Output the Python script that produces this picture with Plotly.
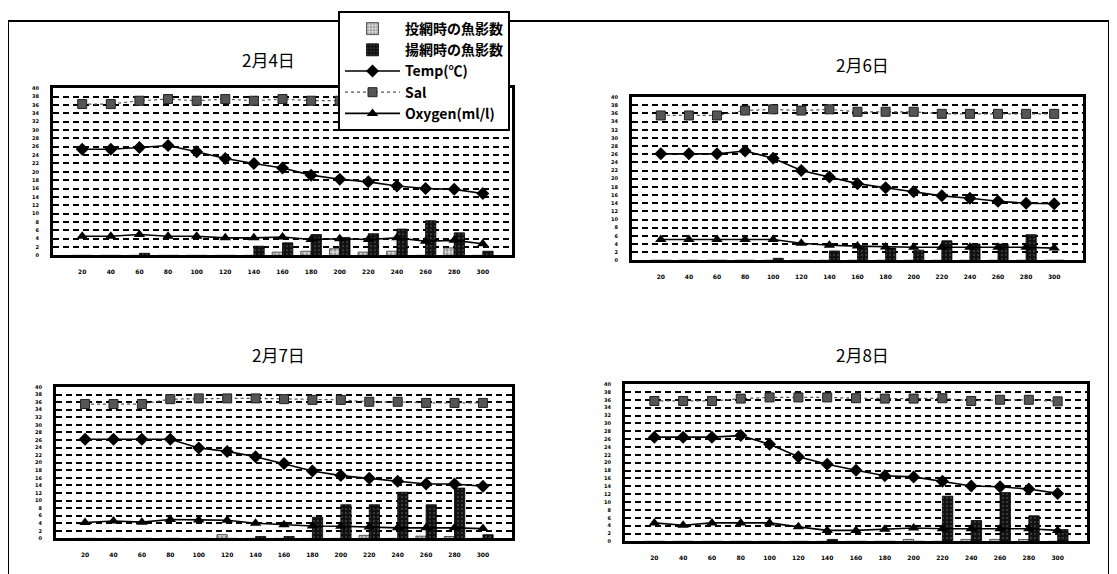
import plotly.graph_objects as go

# ---------------- data ----------------
depth_labels = ["20", "40", "60", "80", "100", "120", "140", "160", "180",
                "200", "220", "240", "260", "280", "300"]
y_tick_vals = list(range(0, 41, 2))

titles = ["2月4日", "2月6日", "2月7日", "2月8日"]
series_names = ["投網時の魚影数", "揚網時の魚影数", "Temp(℃)", "Sal", "Oxygen(ml/l)"]

# 2月4日
cast_0204 = [0, 0, 0, 0, 0, 0, 0, 0.8, 1.0, 1.6, 0.8, 1.0, 0, 1.8, 0]
haul_0204 = [0, 0, 0.5, 0, 0, 0, 2.2, 3.0, 5.0, 4.3, 5.2, 6.3, 8.3, 5.4, 1.0]
temp_0204 = [25.4, 25.4, 25.8, 26.3, 24.8, 23.2, 22.0, 20.9, 19.2, 18.2, 17.6, 16.6, 16.0, 15.8, 14.8]
sal_0204 = [36.2, 36.2, 37.0, 37.4, 37.0, 37.4, 37.0, 37.4, 37.0, 37.0, 37.0, 37.0, 36.8, 36.8, 36.8]
oxy_0204 = [4.6, 4.6, 5.0, 4.6, 4.6, 4.2, 4.2, 4.4, 3.8, 4.0, 3.8, 4.2, 3.4, 3.6, 2.8]

# 2月6日
cast_0206 = [0, 0, 0, 0, 0, 0, 0, 0, 0, 0, 0, 0, 0, 0, 0]
haul_0206 = [0, 0, 0, 0, 0.5, 0, 2.3, 3.5, 3.0, 2.5, 4.8, 4.0, 4.0, 6.3, 0]
temp_0206 = [26.1, 26.1, 26.1, 26.8, 25.0, 22.0, 20.4, 18.8, 17.8, 16.8, 15.8, 15.2, 14.5, 14.0, 13.9]
sal_0206 = [35.5, 35.5, 35.5, 36.7, 37.0, 36.7, 37.0, 36.4, 36.4, 36.4, 35.9, 35.9, 35.9, 35.9, 35.9]
oxy_0206 = [5.1, 5.1, 5.1, 5.1, 5.1, 4.2, 3.7, 3.5, 3.3, 3.2, 3.2, 3.2, 3.2, 3.2, 3.0]

# 2月7日
cast_0207 = [0, 0, 0, 0, 0, 1.0, 0, 0, 0, 0, 0.8, 0, 0.6, 0.5, 0]
haul_0207 = [0, 0, 0, 0, 0, 0, 0.5, 0.5, 5.6, 8.9, 8.9, 12.2, 8.9, 13.3, 1.0]
temp_0207 = [26.2, 26.2, 26.2, 26.2, 23.9, 23.0, 21.6, 19.8, 17.8, 16.6, 15.9, 15.1, 14.4, 14.4, 13.8]
sal_0207 = [35.5, 35.5, 35.5, 36.8, 37.0, 37.0, 37.0, 36.8, 36.6, 36.6, 36.1, 36.1, 35.8, 35.8, 35.8]
oxy_0207 = [4.2, 4.6, 4.3, 5.0, 4.9, 4.8, 4.0, 3.6, 3.3, 3.2, 3.0, 2.8, 2.8, 2.8, 2.6]

# 2月8日
cast_0208 = [0, 0, 0, 0, 0, 0, 0, 0, 0, 0.5, 0, 0.5, 0.5, 0.5, 0]
haul_0208 = [0, 0, 0, 0, 0, 0, 0.5, 0, 0, 0, 11.5, 5.3, 12.4, 6.5, 3.0]
temp_0208 = [26.5, 26.5, 26.5, 26.9, 24.7, 21.5, 19.6, 18.1, 16.7, 16.4, 15.3, 14.1, 13.9, 13.3, 12.2]
sal_0208 = [35.7, 35.7, 35.7, 36.3, 36.6, 36.6, 36.6, 36.4, 36.3, 36.3, 36.4, 35.7, 36.0, 36.0, 35.6]
oxy_0208 = [4.7, 4.1, 4.7, 4.7, 4.7, 3.7, 2.8, 2.8, 3.1, 3.4, 3.2, 3.2, 3.2, 3.2, 2.8]

panels = [
    dict(cast=cast_0204, haul=haul_0204, temp=temp_0204, sal=sal_0204, oxy=oxy_0204),
    dict(cast=cast_0206, haul=haul_0206, temp=temp_0206, sal=sal_0206, oxy=oxy_0206),
    dict(cast=cast_0207, haul=haul_0207, temp=temp_0207, sal=sal_0207, oxy=oxy_0207),
    dict(cast=cast_0208, haul=haul_0208, temp=temp_0208, sal=sal_0208, oxy=oxy_0208),
]

# ---------------- layout (pixel boxes, page coords) ----------------
W, H = 1117, 574
OX, OY = 8, 8  # page body margin offset


def fx(px):
    return (px - OX) / W


def fy(py):
    return 1 - (py - OY) / H


boxes = [  # left, right, top, bottom in page pixels
    (53, 512, 86, 255),
    (632, 1083, 95, 260),
    (56, 512, 388, 541),
    (625, 1087, 385, 544),
]
title_pos = [(268, 57), (862, 62), (278, 355), (862, 355)]

fig = go.Figure()

for i, (p, box) in enumerate(zip(panels, boxes)):
    sfx = "" if i == 0 else str(i + 1)
    xa, ya = "x" + sfx, "y" + sfx
    show = i == 0
    fig.add_trace(go.Bar(
        x=depth_labels, y=p["cast"], name=series_names[0], xaxis=xa, yaxis=ya,
        showlegend=show, legendrank=1, offsetgroup="a",
        marker=dict(color="#d9d9d9", line=dict(color="#333", width=0.8),
                    pattern=dict(shape=".", fgcolor="#555", size=4, solidity=0.4)),
    ))
    fig.add_trace(go.Bar(
        x=depth_labels, y=p["haul"], name=series_names[1], xaxis=xa, yaxis=ya,
        showlegend=show, legendrank=2, offsetgroup="b",
        marker=dict(color="#111111", line=dict(color="#000", width=0.8),
                    pattern=dict(shape=".", fgcolor="#777", size=4, solidity=0.2)),
    ))
    fig.add_trace(go.Scatter(
        x=depth_labels, y=p["temp"], name=series_names[2], xaxis=xa, yaxis=ya,
        showlegend=show, legendrank=3, mode="lines+markers",
        line=dict(color="#000", width=1.6),
        marker=dict(symbol="diamond", size=10, color="#000"),
    ))
    fig.add_trace(go.Scatter(
        x=depth_labels, y=p["sal"], name=series_names[3], xaxis=xa, yaxis=ya,
        showlegend=show, legendrank=4, mode="lines+markers",
        line=dict(color="#555", width=1.2, dash="dot"),
        marker=dict(symbol="square", size=9, color="#555",
                    line=dict(color="#222", width=1)),
    ))
    fig.add_trace(go.Scatter(
        x=depth_labels, y=p["oxy"], name=series_names[4], xaxis=xa, yaxis=ya,
        showlegend=show, legendrank=5, mode="lines+markers",
        line=dict(color="#000", width=1.6),
        marker=dict(symbol="triangle-up", size=10, color="#000"),
    ))

    l, r, t, b = box
    axis_common = dict(showline=True, mirror=True, linewidth=3, linecolor="#000",
                       fixedrange=True)
    fig.layout["xaxis" + sfx] = dict(
        axis_common, type="category", domain=[fx(l), fx(r)], anchor=ya,
        showgrid=False, ticks="outside", ticklen=8, tickcolor="rgba(0,0,0,0)",
        tickfont=dict(size=6, family="DejaVu Sans", color="#000", weight="bold"),
    )
    fig.layout["yaxis" + sfx] = dict(
        axis_common, domain=[fy(b), fy(t)], anchor=xa, range=[0, 40],
        tickvals=y_tick_vals, showgrid=True, gridcolor="#000", gridwidth=2,
        griddash="6px,4px", zeroline=False, ticks="outside", ticklen=10,
        tickcolor="rgba(0,0,0,0)",
        tickfont=dict(size=5, family="DejaVu Sans", color="#000", weight="bold"),
    )
    tx, ty = title_pos[i]
    fig.add_annotation(text=titles[i], x=fx(tx), y=fy(ty), xref="paper", yref="paper",
                       showarrow=False, xanchor="center", yanchor="middle",
                       font=dict(size=17, family="Noto Sans CJK JP", color="#000"))

# outer frame
fig.add_shape(type="rect", xref="paper", yref="paper",
              x0=fx(8), x1=fx(1109), y0=-0.05, y1=fy(18),
              line=dict(color="#000", width=2), layer="below")

fig.update_layout(
    width=W, height=H, margin=dict(l=0, r=0, t=0, b=0),
    paper_bgcolor="#fff", plot_bgcolor="#fff",
    barmode="group", bargap=0.28, bargroupgap=0,
    font=dict(family="Noto Sans CJK JP", color="#000"),
    legend=dict(x=fx(338), y=1.0, xanchor="left", yanchor="top",
                bgcolor="#fff", bordercolor="#000", borderwidth=2,
                font=dict(size=14, family="Noto Sans CJK JP", color="#000",
                          weight="bold"),
                traceorder="normal", itemwidth=55),
)

fig.write_html("out.html")
